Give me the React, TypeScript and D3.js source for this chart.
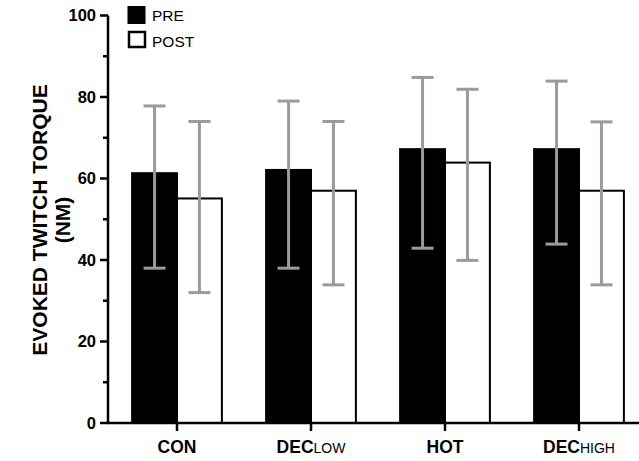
import * as d3 from 'd3';

const categories = ["CON", "DECLOW", "HOT", "DECHIGH"];
const labelMain = ["CON", "DEC", "HOT", "DEC"];
const labelSub = ["", "LOW", "", "HIGH"];
const series = ["PRE", "POST"];
const preMean = [61.3, 62.1, 67.2, 67.2];
const preHi = [77.8, 79, 84.8, 83.9];
const preLo = [38, 38, 42.9, 43.9];
const postMean = [55.1, 57, 63.9, 57];
const postHi = [74, 74, 81.9, 73.9];
const postLo = [32, 33.9, 39.9, 33.9];
const yTicks = [0, 20, 40, 60, 80, 100];
const yMinor = [10, 30, 50, 70, 90];

export default function App() {
    const y = d3.scaleLinear().domain([0, 100]).range([423, 15.5]);
    const x = d3.scaleBand<string>().domain(categories).range([110, 646]).paddingInner(0.33).paddingOuter(0.165);
    const sub = d3.scaleBand<string>().domain(series).range([0, x.bandwidth()]);
    const font = "Liberation Sans, Arial, sans-serif";
    const data = [
        { mean: preMean, hi: preHi, lo: preLo, fill: "black" },
        { mean: postMean, hi: postHi, lo: postLo, fill: "white" },
    ];

    return (
        <svg width={639} height={461} style={{ position: "absolute", left: 0, top: 0 }} fontFamily={font}>
            {data.map((s, si) => categories.map((c, i) => {
                const bx = (x(c) ?? 0) + (sub(series[si]) ?? 0);
                const w = sub.bandwidth();
                const cx = bx + w / 2;
                return (
                    <g key={c + si}>
                        <rect x={bx} y={y(s.mean[i])} width={w} height={y(0) - y(s.mean[i])}
                            fill={s.fill} stroke="black" strokeWidth={2} />
                        <g stroke="#9b9b9b" strokeWidth={3}>
                            <line x1={cx} x2={cx} y1={y(s.hi[i])} y2={y(s.lo[i])} />
                            <line x1={cx - 11} x2={cx + 11} y1={y(s.hi[i])} y2={y(s.hi[i])} />
                            <line x1={cx - 11} x2={cx + 11} y1={y(s.lo[i])} y2={y(s.lo[i])} />
                        </g>
                    </g>
                );
            }))}
            <line x1={108} x2={108} y1={y(100)} y2={y(0)} stroke="black" strokeWidth={2.5} />
            <line x1={107} x2={639} y1={y(0)} y2={y(0)} stroke="black" strokeWidth={2.5} />
            {yTicks.map(t => (
                <g key={t}>
                    <line x1={100} x2={108} y1={y(t)} y2={y(t)} stroke="black" strokeWidth={2.5} />
                    <text x={96} y={y(t)} dy="0.36em" textAnchor="end" fontSize={16.5} fontWeight="bold">{t}</text>
                </g>
            ))}
            {yMinor.map(t => (
                <line key={t} x1={103} x2={108} y1={y(t)} y2={y(t)} stroke="black" strokeWidth={2.5} />
            ))}
            {categories.map((c, i) => {
                const cx = (x(c) ?? 0) + x.bandwidth() / 2;
                return (
                    <g key={c}>
                        <line x1={cx} x2={cx} y1={y(0)} y2={y(0) + 8} stroke="black" strokeWidth={2.5} />
                        <text x={cx} y={453} textAnchor="middle" fontSize={17.5}>
                            <tspan fontWeight="bold">{labelMain[i]}</tspan>
                            {labelSub[i] && <tspan fontSize={14}>{labelSub[i]}</tspan>}
                        </text>
                    </g>
                );
            })}
            <text transform="translate(47,220) rotate(-90)" textAnchor="middle" fontSize={21} fontWeight="bold">EVOKED TWITCH TORQUE</text>
            <text transform="translate(70,220) rotate(-90)" textAnchor="middle" fontSize={21} fontWeight="bold">(NM)</text>
            <rect x={127.5} y={6} width={18} height={18} fill="black" />
            <text x={152} y={21} fontSize={15.5}>PRE</text>
            <rect x={129} y={32} width={16} height={15} fill="white" stroke="black" strokeWidth={2.5} />
            <text x={152} y={47} fontSize={15.5}>POST</text>
        </svg>
    );
}
